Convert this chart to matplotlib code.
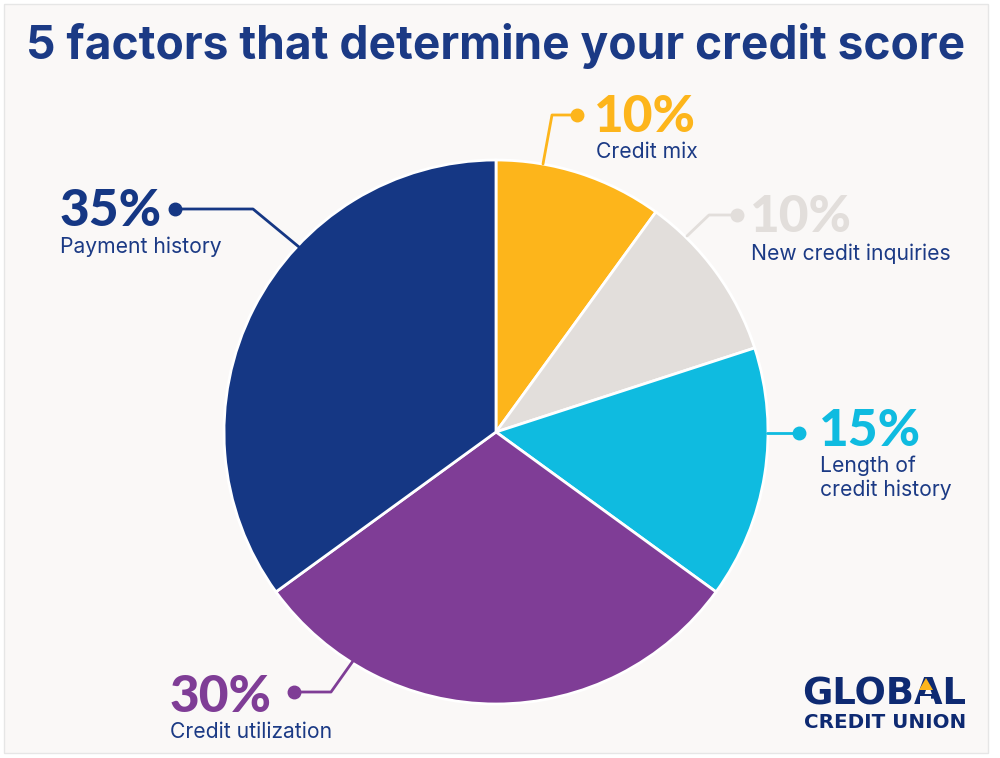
import matplotlib.pyplot as plt
from matplotlib.patches import Rectangle, Polygon

# -----------------------------------------------------------------------------
# Data (clockwise from 12 o'clock)
labels = ['Credit mix', 'New credit inquiries', 'Length of\ncredit history',
          'Credit utilization', 'Payment history']
values = [10, 10, 15, 30, 35]
colors = ['#FDB51B', '#E2DEDB', '#0FBBE0', '#7F3D96', '#153784']

navy = '#1B3A85'
panel = '#FAF8F7'
W, H = 1000, 758


def fy(y):
    # picture y (from the top) to axes y
    return H - y


plt.rcParams['font.family'] = ['Inter', 'DejaVu Sans']

fig = plt.figure(figsize=(10, 7.58), dpi=100, facecolor='white')
ax = fig.add_axes([0, 0, 1, 1])

# Panel
ax.add_patch(Rectangle((4, fy(753)), 984, 749, facecolor=panel, edgecolor='#E6E6E6', lw=1, zorder=0))

# Title
ax.text(496, fy(46), '5 factors that determine your credit score', color=navy,
        fontsize=33.2, fontweight='bold', ha='center', va='center')

# Pie
ax.pie(values, colors=colors, startangle=90, counterclock=False, center=(496, fy(432)),
       radius=272, frame=True, wedgeprops={'edgecolor': 'white', 'linewidth': 2})
ax.set_xlim(0, W)
ax.set_ylim(0, H)
ax.set_aspect('auto')
ax.axis('off')

# Leader lines: (x, y) in picture pixels, last point holds the dot
leaders = [
    [(543, 164), (552, 115), (577, 115)],
    [(687, 236), (709, 215), (737, 215)],
    [(767, 433), (799, 433)],
    [(353, 661), (331, 692), (294, 692)],
    [(299, 247), (253, 209), (175, 209)],
]
for pts, c in zip(leaders, colors):
    xs = [p[0] for p in pts]
    ys = [fy(p[1]) for p in pts]
    ax.plot(xs, ys, color=c, lw=2, zorder=3, solid_capstyle='round')
    ax.plot(xs[-1], ys[-1], 'o', color=c, ms=9, zorder=4)

# Percent labels and names
pct_pos = [(594, 118), (750, 218), (819, 431), (170, 697), (60, 212)]
name_pos = [(596, 152), (751, 254), (820, 478), (170, 732), (60, 247)]
for v, lab, c, p, n in zip(values, labels, colors, pct_pos, name_pos):
    ax.text(p[0], fy(p[1]), f'{v}%', color=c, fontsize=37, fontweight='black', family='Lato',
            ha='left', va='center')
    ax.text(n[0], fy(n[1]), lab, color=navy, fontsize=15.2, ha='left', va='center', linespacing=1.2)

# Logo
ax.text(884.5, fy(694), 'GLOBAL', color='#0E2A72', fontsize=26.6, fontweight='bold', family='DejaVu Sans',
        ha='center', va='center')
ax.text(885, fy(722), 'CREDIT UNION', color='#0E2A72', fontsize=14.3, fontweight='bold', family='DejaVu Sans',
        ha='center', va='center')
# The logo's A has no crossbar, only a small arrow on top
ax.add_patch(Rectangle((919.5, fy(704)), 11.5, 8, facecolor=panel, edgecolor='none', zorder=5))
ax.add_patch(Polygon([(919, fy(690)), (926, fy(678)), (933, fy(690))], facecolor='#FDB51B', edgecolor='none', zorder=6))

fig.savefig('out.png', dpi=100, facecolor='white')
